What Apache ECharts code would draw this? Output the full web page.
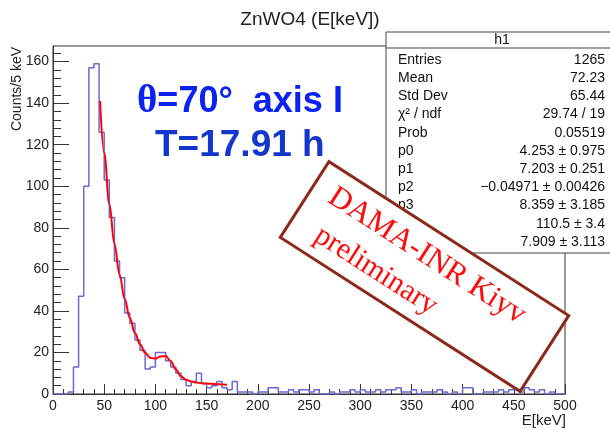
<!DOCTYPE html>
<html><head><meta charset="utf-8">
<script src="https://cdn.jsdelivr.net/npm/echarts@6/dist/echarts.min.js"></script>
<style>html,body{margin:0;padding:0;background:#fff}#c{width:610px;height:430px}</style>
</head><body><div id="c"></div>
<script>
// ---- data ----
const binWidth = 5;
const counts = [
  0, 0, 0, 1, 13, 47, 100, 157, 159, 126,
  103, 85, 64, 56, 39, 34, 26, 21, 12, 13,
  20, 20, 16, 13, 10, 7, 4, 6, 10, 5,
  3, 4, 6, 3, 2, 6, 1, 1, 1, 0,
  1, 1, 3, 3, 1, 1, 2, 1, 2, 2,
  1, 2, 0, 0, 1, 0, 1, 1, 2, 1,
  2, 1, 1, 2, 1, 2, 2, 3, 1, 1,
  2, 0, 1, 1, 1, 2, 1, 0, 1, 0,
  3, 3, 0, 0, 1, 1, 1, 2, 1, 2,
  2, 1, 3, 2, 1, 2, 0, 1, 0, 0
];
const fitE = [46, 50, 55, 60, 65, 70, 75, 80, 85, 90, 95, 100, 105, 110, 115, 120, 125, 130, 135, 140, 145, 150, 155, 160, 165, 170];
const fitVal = [141, 116, 91.5, 72.3, 57.4, 45.7, 36.6, 29.4, 23.9, 19.8, 17.4, 17.0, 18.1, 18.3, 15.8, 11.8, 8.5, 6.8, 6.0, 5.5, 5.2, 5.0, 4.9, 4.7, 4.6, 4.5];
const xMajorTicks = [0, 50, 100, 150, 200, 250, 300, 350, 400, 450, 500];
const xMinorTicks = [0, 10, 20, 30, 40, 50, 60, 70, 80, 90, 100, 110, 120, 130, 140, 150, 160, 170, 180, 190, 200, 210, 220, 230, 240, 250, 260, 270, 280, 290, 300, 310, 320, 330, 340, 350, 360, 370, 380, 390, 400, 410, 420, 430, 440, 450, 460, 470, 480, 490, 500];
const yMajorTicks = [0, 20, 40, 60, 80, 100, 120, 140, 160];
const yMinorTicks = [0, 4, 8, 12, 16, 20, 24, 28, 32, 36, 40, 44, 48, 52, 56, 60, 64, 68, 72, 76, 80, 84, 88, 92, 96, 100, 104, 108, 112, 116, 120, 124, 128, 132, 136, 140, 144, 148, 152, 156, 160, 164];
const title = 'ZnWO4 (E[keV])';
const xName = 'E[keV]';
const yName = 'Counts/5 keV';
const statsTitle = 'h1';
const statsLabels = ['Entries', 'Mean', 'Std Dev', 'χ² / ndf', 'Prob', 'p0', 'p1', 'p2', 'p3', 'p4', 'p5'];
const statsValues = ['1265', '72.23', '65.44', '29.74 / 19', '0.05519', '4.253 ± 0.975', '7.203 ± 0.251', '−0.04971 ± 0.00426', '8.359 ± 3.185', '110.5 ± 3.4', '7.909 ± 3.113'];
const noteLine1 = ['θ', '=70°  axis I'];
const noteLine2 = 'T=17.91 h';
const stampLine1 = 'DAMA-INR Kiyv';
const stampLine2 = 'preliminary';

// ---- build ----
const histPts = counts.map((c, i) => [i * binWidth, c]);
histPts.push([counts.length * binWidth, counts[counts.length - 1]]);
const fitPts = fitE.map((e, i) => [e, fitVal[i]]);

const SANS = '"Liberation Sans", Arial, Helvetica, sans-serif';
const SERIF = '"Liberation Serif", "Times New Roman", serif';
const AX = '#222';

const graphic = [];
graphic.push({ type: 'text', x: 310, y: 20, style: { text: title, align: 'center', verticalAlign: 'middle', font: '19px ' + SANS, fill: '#222' } });
graphic.push({ type: 'text', x: 17, y: 47, rotation: Math.PI / 2, style: { text: yName, align: 'right', verticalAlign: 'middle', font: '14px ' + SANS, fill: AX } });
graphic.push({ type: 'text', x: 566, y: 421, style: { text: xName, align: 'right', verticalAlign: 'middle', font: '15px ' + SANS, fill: AX } });

// stats box
const boxX = 386, boxTop = 32, boxW = 240, hdr = 48, rowY0 = 60, rowStep = 18.2;
const boxBottom = rowY0 + rowStep * (statsLabels.length - 1) + 11;
graphic.push({ type: 'rect', shape: { x: boxX, y: boxTop, width: boxW, height: boxBottom - boxTop }, style: { fill: '#fff', stroke: '#444', lineWidth: 1 }, z: 10 });
graphic.push({ type: 'line', shape: { x1: boxX, y1: hdr, x2: boxX + boxW, y2: hdr }, style: { stroke: '#444', lineWidth: 1 }, z: 11 });
graphic.push({ type: 'text', x: 502, y: 40, style: { text: statsTitle, align: 'center', verticalAlign: 'middle', font: '14px ' + SANS, fill: '#111' }, z: 11 });
statsLabels.forEach((lab, i) => {
  const y = rowY0 + rowStep * i;
  graphic.push({ type: 'text', x: 398, y, style: { text: lab, align: 'left', verticalAlign: 'middle', font: '14px ' + SANS, fill: '#111' }, z: 11 });
  graphic.push({ type: 'text', x: 605, y, style: { text: statsValues[i], align: 'right', verticalAlign: 'middle', font: '14px ' + SANS, fill: '#111' }, z: 11 });
});

// blue annotation
graphic.push({ type: 'text', x: 137, y: 102, style: { text: '{t|' + noteLine1[0] + '}{a|' + noteLine1[1] + '}', align: 'left', verticalAlign: 'middle',
  rich: { t: { font: 'bold 39px ' + SERIF, fill: '#0b22f0' }, a: { font: 'bold 36px ' + SANS, fill: '#0b22f0' } } }, z: 12 });
graphic.push({ type: 'text', x: 155, y: 146, style: { text: noteLine2, align: 'left', verticalAlign: 'middle', font: 'bold 37px ' + SANS, fill: '#1436cc' }, z: 12 });

// stamp
graphic.push({ type: 'group', x: 424.5, y: 276.5, rotation: -0.571, z: 20, children: [
  { type: 'rect', shape: { x: -142.5, y: -45, width: 285, height: 90 }, style: { fill: '#fff', stroke: '#8b2a1c', lineWidth: 3 }, z: 20 },
  { type: 'text', x: -9, y: -18.6, style: { text: stampLine1, align: 'center', verticalAlign: 'middle', font: '31px ' + SERIF, fill: '#ff0a0a' }, z: 21 },
  { type: 'text', x: -44, y: 21.6, style: { text: stampLine2, align: 'center', verticalAlign: 'middle', font: '30px ' + SERIF, fill: '#ff0a0a' }, z: 21 }
]});

const chart = echarts.init(document.getElementById('c'), null, { renderer: 'canvas' });
chart.setOption({
  animation: false,
  backgroundColor: '#fff',
  grid: { left: 53, right: 45, top: 46, bottom: 36, show: true, borderColor: '#333', borderWidth: 1, backgroundColor: 'transparent', containLabel: false },
  xAxis: [
    { type: 'value', min: 0, max: 500, position: 'bottom',
      axisLine: { show: true, onZero: false, lineStyle: { color: '#333', width: 1 } },
      axisTick: { show: true, inside: true, length: 10, customValues: xMajorTicks, lineStyle: { color: '#333' } },
      axisLabel: { show: true, customValues: xMajorTicks, margin: 5, fontSize: 14, fontFamily: SANS, color: AX },
      splitLine: { show: false } },
    { type: 'value', min: 0, max: 500, position: 'bottom',
      axisLine: { show: false, onZero: false },
      axisTick: { show: true, inside: true, length: 5, customValues: xMinorTicks, lineStyle: { color: '#333' } },
      axisLabel: { show: false }, splitLine: { show: false } }
  ],
  yAxis: [
    { type: 'value', min: 0, max: 167.5, position: 'left',
      axisLine: { show: true, onZero: false, lineStyle: { color: '#333', width: 1 } },
      axisTick: { show: true, inside: true, length: 16, customValues: yMajorTicks, lineStyle: { color: '#333' } },
      axisLabel: { show: true, customValues: yMajorTicks, margin: 4, fontSize: 14, fontFamily: SANS, color: AX },
      splitLine: { show: false } },
    { type: 'value', min: 0, max: 167.5, position: 'left',
      axisLine: { show: false, onZero: false },
      axisTick: { show: true, inside: true, length: 8, customValues: yMinorTicks, lineStyle: { color: '#333' } },
      axisLabel: { show: false }, splitLine: { show: false } }
  ],
  series: [
    { type: 'line', xAxisIndex: 0, yAxisIndex: 0, data: histPts, step: 'end', symbol: 'none',
      lineStyle: { color: '#6a6ad2', width: 1.5 }, z: 2 },
    { type: 'line', xAxisIndex: 0, yAxisIndex: 0, data: fitPts, smooth: 0.4, smoothMonotone: 'x', symbol: 'none',
      lineStyle: { color: '#ff0000', width: 2 }, z: 3 }
  ],
  graphic: graphic
});
</script>
</body></html>
